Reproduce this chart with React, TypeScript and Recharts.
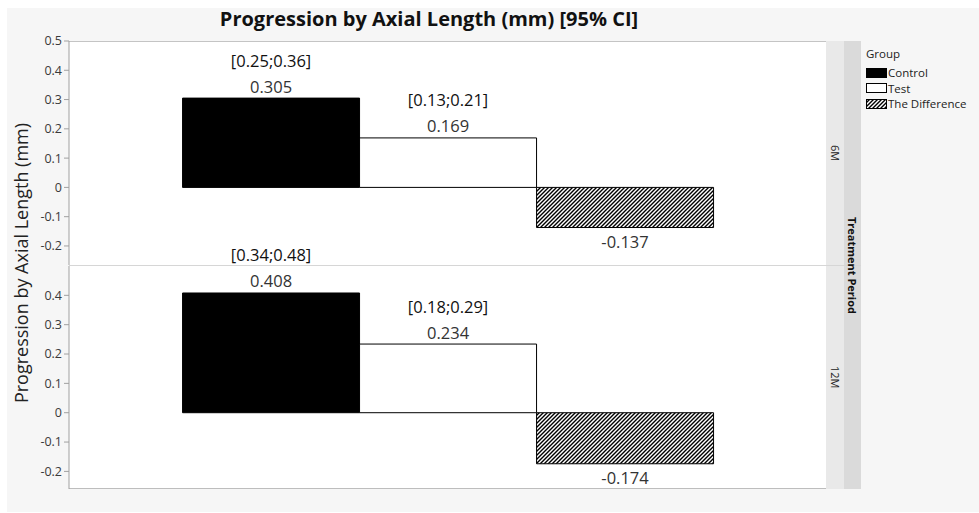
import React from "react";
import { BarChart, Bar, XAxis, YAxis, LabelList } from "recharts";

const categories = ["Control", "Test", "The Difference"];
const periods = ["6M", "12M"];
const control = [0.305, 0.408];
const test = [0.169, 0.234];
const difference = [-0.137, -0.174];
const controlCI = ["[0.25;0.36]", "[0.34;0.48]"];
const testCI = ["[0.13;0.21]", "[0.18;0.29]"];
const topTicks = [-0.2, -0.1, 0, 0.1, 0.2, 0.3, 0.4, 0.5];
const bottomTicks = [-0.2, -0.1, 0, 0.1, 0.2, 0.3, 0.4];

const W = 979;
const H = 513;
const plotLeft = 69;
const plotRight = 826;
const font = '"Open Sans", "Noto Sans", sans-serif';

// panel geometry (top/bottom of each plot area)
const panels = [
  { top: 41, bottom: 265, domain: [-0.265, 0.5], ticks: topTicks },
  { top: 266, bottom: 489, domain: [-0.26, 0.5], ticks: bottomTicks },
];

const makeLabel = (ci: string | null) => (props: any) => {
  const { x, y, width, height, value } = props;
  const top = Math.min(y, y + height);
  const bottom = Math.max(y, y + height);
  const cx = x + width / 2;
  const style = { fontFamily: font, fontSize: 16.5 };
  if (value < 0) {
    return (
      <text x={cx} y={bottom + 14} textAnchor="middle" dominantBaseline="central" fill="#333" style={style}>
        {String(value)}
      </text>
    );
  }
  return (
    <g>
      <text x={cx} y={top - 12} textAnchor="middle" dominantBaseline="central" fill="#333" style={style}>
        {String(value)}
      </text>
      {ci && (
        <text x={cx} y={top - 38} textAnchor="middle" dominantBaseline="central" fill="#111" style={style}>
          {ci}
        </text>
      )}
    </g>
  );
};

const Panel = ({ p }: { p: number }) => {
  const cfg = panels[p];
  const data = [
    { period: periods[p], control: control[p], test: test[p], difference: difference[p] },
  ];
  const yW = 30;
  return (
    <div style={{ position: "absolute", left: 0, top: 0 }}>
      <BarChart
        width={W}
        height={H}
        data={data}
        barCategoryGap="15%"
        barGap={0}
        margin={{ top: cfg.top, bottom: H - cfg.bottom, left: plotLeft - yW, right: W - plotRight }}
      >
        <defs>
          <pattern id={`hatch${p}`} patternUnits="userSpaceOnUse" width={4} height={4}>
            <rect width={4} height={4} fill="#fff" />
            <path d="M-1,1 l2,-2 M0,4 l4,-4 M3,5 l2,-2" stroke="#000" strokeWidth={1.4} />
          </pattern>
        </defs>
        <XAxis dataKey="period" hide />
        <YAxis
          width={yW}
          domain={cfg.domain}
          ticks={cfg.ticks}
          allowDataOverflow
          tickSize={5}
          tickMargin={2}
          axisLine={{ stroke: "#a0a0a0" }}
          tickLine={{ stroke: "#a0a0a0" }}
          tick={{ fill: "#3a3a3a", fontSize: 12.5, fontFamily: font }}
          tickFormatter={(v: number) => String(v)}
        />
        <Bar dataKey="control" name={categories[0]} fill="#000" stroke="#000" isAnimationActive={false}>
          <LabelList dataKey="control" content={makeLabel(controlCI[p])} />
        </Bar>
        <Bar dataKey="test" name={categories[1]} fill="#fff" stroke="#000" isAnimationActive={false}>
          <LabelList dataKey="test" content={makeLabel(testCI[p])} />
        </Bar>
        <Bar dataKey="difference" name={categories[2]} fill={`url(#hatch${p})`} stroke="#000" isAnimationActive={false}>
          <LabelList dataKey="difference" content={makeLabel(null)} />
        </Bar>
      </BarChart>
    </div>
  );
};

const Swatch = ({ i }: { i: number }) => (
  <svg width={21} height={10} style={{ display: "block", marginRight: 1 }}>
    <defs>
      <pattern id="hatchLegend" patternUnits="userSpaceOnUse" width={4} height={4}>
        <rect width={4} height={4} fill="#fff" />
        <path d="M-1,1 l2,-2 M0,4 l4,-4 M3,5 l2,-2" stroke="#000" strokeWidth={1.4} />
      </pattern>
    </defs>
    <rect
      x={0.5}
      y={0.5}
      width={20}
      height={9}
      fill={i === 0 ? "#000" : i === 1 ? "#fff" : "url(#hatchLegend)"}
      stroke="#000"
    />
  </svg>
);

export default function App() {
  return (
    <div
      style={{
        position: "absolute",
        left: 0,
        top: 0,
        width: W,
        height: H,
        background: "#fff",
        overflow: "hidden",
        fontFamily: font,
      }}
    >
      <div style={{ position: "absolute", left: 7, top: 8, width: 972, height: 504, background: "#f6f6f6" }} />
      <div
        style={{
          position: "absolute",
          left: 69,
          width: 720,
          top: 7,
          textAlign: "center",
          fontWeight: 700,
          fontSize: 20,
          lineHeight: "24px",
          color: "#111",
        }}
      >
        Progression by Axial Length (mm) [95% CI]
      </div>
      {/* plot backgrounds */}
      <div
        style={{
          position: "absolute",
          left: plotLeft,
          top: 41,
          width: plotRight - plotLeft,
          height: 224,
          background: "#fff",
          borderTop: "1px solid #c4c4c4",
          boxSizing: "border-box",
        }}
      />
      <div
        style={{
          position: "absolute",
          left: plotLeft,
          top: 266,
          width: plotRight - plotLeft,
          height: 223,
          background: "#fff",
          borderBottom: "1px solid #bdbdbd",
          boxSizing: "border-box",
        }}
      />
      {/* facet strips */}
      <div style={{ position: "absolute", left: 826, top: 41, width: 18, height: 448, background: "#e9e9e9" }} />
      <div style={{ position: "absolute", left: 844, top: 41, width: 17, height: 448, background: "#dadada" }} />
      <div style={{ position: "absolute", left: plotLeft, top: 265, width: 861 - plotLeft, height: 1, background: "#d6d6d6" }} />
      {periods.map((lab, i) => (
        <div
          key={lab}
          style={{
            position: "absolute",
            left: 826,
            width: 18,
            top: i === 0 ? 41 : 266,
            height: i === 0 ? 224 : 223,
            writingMode: "vertical-rl",
            textAlign: "center",
            fontSize: 11,
            lineHeight: "18px",
            color: "#222",
          }}
        >
          {lab}
        </div>
      ))}
      <div
        style={{
          position: "absolute",
          left: 844,
          width: 17,
          top: 41,
          height: 448,
          writingMode: "vertical-rl",
          textAlign: "center",
          fontSize: 11,
          fontWeight: 700,
          lineHeight: "17px",
          color: "#111",
        }}
      >
        Treatment Period
      </div>
      <Panel p={0} />
      <Panel p={1} />
      {/* y axis title */}
      <div
        style={{
          position: "absolute",
          left: 21 - 160,
          top: 263 - 12,
          width: 320,
          height: 24,
          lineHeight: "24px",
          textAlign: "center",
          fontSize: 18,
          color: "#222",
          transform: "rotate(-90deg)",
        }}
      >
        Progression by Axial Length (mm)
      </div>
      {/* legend */}
      <div style={{ position: "absolute", left: 866, top: 46, fontSize: 11.5, color: "#222", lineHeight: "15px" }}>
        <div style={{ marginBottom: 4 }}>Group</div>
        {categories.map((c, i) => (
          <div key={c} style={{ display: "flex", alignItems: "center", height: 15.5 }}>
            <Swatch i={i} />
            <span>{c}</span>
          </div>
        ))}
      </div>
    </div>
  );
}
